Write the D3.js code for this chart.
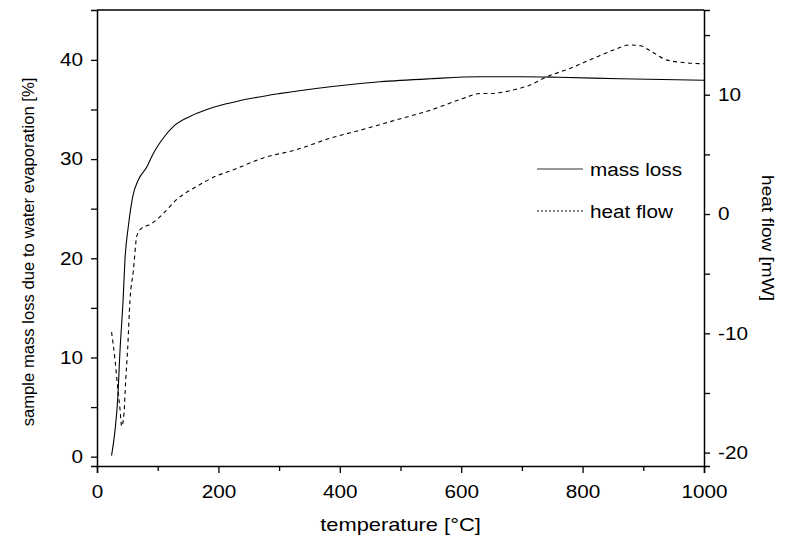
<!DOCTYPE html>
<html>
<head>
<meta charset="utf-8">
<script src="https://cdn.jsdelivr.net/npm/d3@7"></script>
<style>
  html, body { margin: 0; padding: 0; background: #fff; }
  svg { display: block; }
  text { font-family: "Liberation Sans", Arial, sans-serif; fill: #000; }
</style>
</head>
<body>
<svg id="chart" width="800" height="539"></svg>
<script>
// ---- data ----
const massT    = [24, 29.6, 34, 38, 43, 46, 51.6, 58.8, 68, 82, 93, 106.5, 126, 153, 181, 208, 236, 300, 384, 466, 549, 631, 700, 760, 862, 1000];
const massLoss = [0.1, 2.6, 5.7, 10.8, 15.8, 19.8, 23.2, 26.2, 27.9, 29.2, 30.6, 31.9, 33.3, 34.3, 35.0, 35.5, 35.9, 36.6, 37.3, 37.8, 38.1, 38.3, 38.3, 38.25, 38.1, 37.95];

const heatT    = [24, 29.6, 34, 38, 40.6, 44.5, 47, 50.4, 54.4, 60, 65.4, 71, 90, 106.5, 131, 164, 197, 219, 274, 329, 384, 439, 494, 549, 604, 631, 647, 686, 713, 741, 779, 818, 851, 878, 895, 914, 939, 966, 996, 1000];
const heatFlow = [-9.9, -12.2, -14.5, -16.4, -17.8, -16.7, -14.2, -11.4, -7.2, -4.7, -1.9, -1.3, -0.8, -0.1, 1.2, 2.3, 3.2, 3.6, 4.7, 5.4, 6.35, 7.1, 7.9, 8.7, 9.7, 10.1, 10.1, 10.4, 10.8, 11.5, 12.2, 13.05, 13.75, 14.17, 14.1, 13.6, 12.9, 12.7, 12.6, 12.6];

const xTicks      = [0, 200, 400, 600, 800, 1000];
const xMinorTicks = [100, 300, 500, 700, 900];
const yLeftTicks  = [0, 10, 20, 30, 40];
const yLeftMinor  = [5, 15, 25, 35];
const yRightTicks = [-20, -10, 0, 10];
const yRightMinor = [-15, -5, 5, 15];

const seriesNames = ["mass loss", "heat flow"];
const xTitle = "temperature [°C]";
const yLeftTitle = "sample mass loss due to water evaporation [%]";
const yRightTitle = "heat flow [mW]";

// ---- layout ----
const L = 97, R = 704, T = 10, B = 466;
const STRETCH = 1.15;
const svg = d3.select("#chart");

const x = d3.scaleLinear().domain([0, 1000]).range([L, R]);
const yL = d3.scaleLinear().domain([-0.94, 45.03]).range([B, T]);
const yR = d3.scaleLinear().domain([-21.12, 17.1]).range([B, T]);

const fs = 18;
const fmt = d => String(d);   // plain hyphen-minus like the reference

const ax = svg.append("g").attr("class", "axes");
function styleAxis(g) {
  g.selectAll("path.domain").attr("stroke", "#000").attr("stroke-width", 1.5);
  g.selectAll(".tick line").attr("stroke", "#000").attr("stroke-width", 1.3);
  g.selectAll(".tick text").style("font-size", fs + "px").attr("fill", "#000")
    .style("font-family", '"Liberation Sans", Arial, sans-serif');
}

// bottom
const gB = ax.append("g").attr("transform", `translate(0,${B})`)
  .call(d3.axisBottom(x).tickValues(xTicks).tickSize(7).tickPadding(12).tickFormat(fmt));
styleAxis(gB);
ax.append("g").attr("transform", `translate(0,${B})`)
  .call(d3.axisBottom(x).tickValues(xMinorTicks).tickSize(5).tickFormat(""))
  .call(g => { g.select("path.domain").remove(); styleAxis(g); });

// left
const gLft = ax.append("g").attr("transform", `translate(${L},0)`)
  .call(d3.axisLeft(yL).tickValues(yLeftTicks).tickSize(6).tickPadding(8).tickFormat(fmt));
styleAxis(gLft);
ax.append("g").attr("transform", `translate(${L},0)`)
  .call(d3.axisLeft(yL).tickValues(yLeftMinor).tickSize(6).tickFormat(""))
  .call(g => { g.select("path.domain").remove(); styleAxis(g); });

// right
const gRt = ax.append("g").attr("transform", `translate(${R},0)`)
  .call(d3.axisRight(yR).tickValues(yRightTicks).tickSize(6).tickPadding(8).tickFormat(fmt));
styleAxis(gRt);
ax.append("g").attr("transform", `translate(${R},0)`)
  .call(d3.axisRight(yR).tickValues(yRightMinor).tickSize(6).tickFormat(""))
  .call(g => { g.select("path.domain").remove(); styleAxis(g); });

// top line
ax.append("line").attr("x1", L).attr("x2", R).attr("y1", T).attr("y2", T)
  .attr("stroke", "#000").attr("stroke-width", 1.5);

// ---- curves ----
const massData = massT.map((t, i) => [t, massLoss[i]]);
const heatData = heatT.map((t, i) => [t, heatFlow[i]]);

const lineMass = d3.line().x(d => x(d[0])).y(d => yL(d[1])).curve(d3.curveMonotoneX);
const lineHeat = d3.line().x(d => x(d[0])).y(d => yR(d[1])).curve(d3.curveMonotoneX);

svg.append("path").datum(massData).attr("d", lineMass)
  .attr("fill", "none").attr("stroke", "#000").attr("stroke-width", 1.1);
svg.append("path").datum(heatData).attr("d", lineHeat)
  .attr("fill", "none").attr("stroke", "#000").attr("stroke-width", 1.1)
  .attr("stroke-dasharray", "4,3.5");

// ---- legend ----
const leg = svg.append("g");
const legY = [169, 211];
leg.selectAll("line").data(seriesNames).enter().append("line")
  .attr("x1", 537).attr("x2", 583)
  .attr("y1", (d, i) => legY[i]).attr("y2", (d, i) => legY[i])
  .attr("stroke", (d, i) => i === 0 ? "#333" : "#000")
  .attr("stroke-width", 1)
  .attr("stroke-dasharray", (d, i) => i === 0 ? null : "2,2");
leg.selectAll("text").data(seriesNames).enter().append("text")
  .attr("x", 590).attr("y", (d, i) => legY[i] + 1)
  .attr("dy", "0.35em")
  .style("font-size", fs + "px")
  .text(d => d);

// ---- titles ----
svg.append("text").attr("x", (L + R) / 2).attr("y", 531)
  .attr("text-anchor", "middle").style("font-size", "19px").text(xTitle)
  .attr("data-stretch", STRETCH);
svg.append("text")
  .attr("transform", `translate(34,252) rotate(-90)`)
  .attr("text-anchor", "middle").style("font-size", "16px").text(yLeftTitle)
  .attr("data-stretch", 1.04);
svg.append("text")
  .attr("transform", `translate(762,238) rotate(90)`)
  .attr("text-anchor", "middle").style("font-size", "17px").text(yRightTitle)
  .attr("data-stretch", 1.12);

// horizontal stretch of all text (reference glyphs are wider than Arial)
svg.selectAll("text").each(function () {
  const w = this.getComputedTextLength();
  const s = +(this.getAttribute("data-stretch") || STRETCH);
  if (w > 0) {
    d3.select(this).attr("textLength", w * s).attr("lengthAdjust", "spacingAndGlyphs");
  }
});
</script>
</body>
</html>
